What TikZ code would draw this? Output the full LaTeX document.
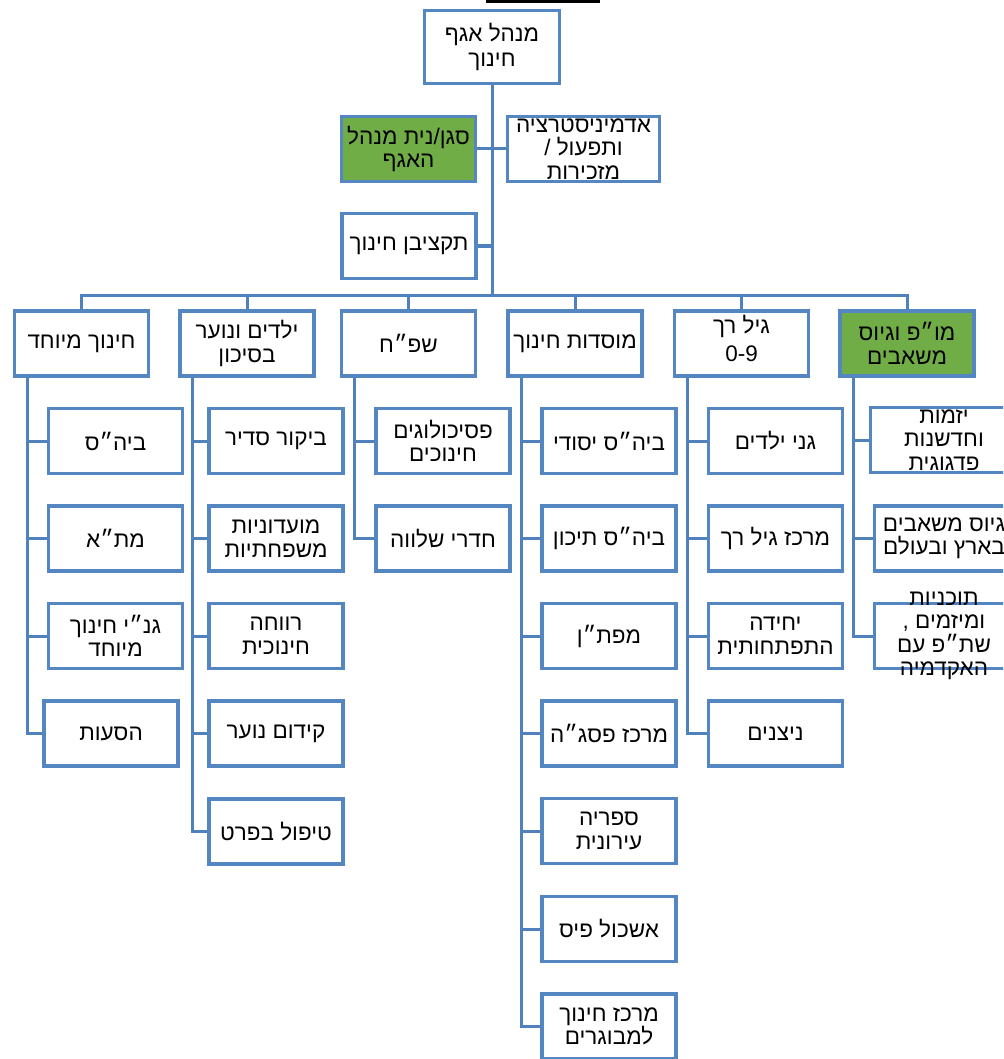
\documentclass[tikz,border=0pt]{standalone}
\usepackage{fontspec}
\setmainfont{Liberation Sans}
\newfontfamily\hebfont[Script=Hebrew]{Liberation Sans}
\TeXXeTstate=1
\newcommand{\heb}[1]{\beginR #1\endR}
\definecolor{boxblue}{RGB}{84,134,194}
\definecolor{lineblue}{RGB}{79,129,189}
\definecolor{boxgreen}{RGB}{112,173,71}
\tikzset{
  box/.style={draw=boxblue, line width=3.2pt, fill=white, minimum width=134pt,
    minimum height=65pt, align=center, inner xsep=2pt, inner ysep=0pt,
    font=\hebfont\fontsize{22.5}{23.5}\selectfont},
  greenbox/.style={box, fill=boxgreen},
  txt/.style={align=center, inner sep=0pt, font=\hebfont\fontsize{22.5}{23.5}\selectfont},
  conn/.style={draw=lineblue, line width=3pt},
}
\begin{document}
\begin{tikzpicture}[x=1pt, y=-1pt]
\useasboundingbox (0,0) rectangle (1003,1059);
\clip (0,0) rectangle (1003,1059);
% title underline (cut off title)
\draw[black, line width=3pt] (486,1.5) -- (600,1.5);

% top
\node[box, minimum width=135pt, minimum height=73pt] (top) at (492,47) {\heb{מנהל אגף}\\[2pt]\heb{חינוך}};
\node[greenbox] (sg) at (408.5,149) {\heb{סגן/נית מנהל}\\\heb{האגף}};
\node[box, minimum width=152pt] (ad) at (583.5,149) {};
\node[txt] (adt) at (ad.center) {\heb{אדמיניסטרציה}\\\heb{ותפעול /}\\\heb{מזכירות}};
\node[box] (tq) at (409,246) {\heb{תקציבן חינוך}};
\coordinate (bus) at (492,295);

% level 1
\node[box] (c1) at (81.5,343.5) {\heb{חינוך מיוחד}};
\node[box] (c2) at (247,343.5) {\heb{ילדים ונוער}\\\heb{בסיכון}};
\node[box] (c3) at (408.5,343.5) {\heb{שפ״ח}};
\node[box] (c4) at (575,343.5) {\heb{מוסדות חינוך}};
\node[box] (c5) at (741.5,343.5) {};
\node[txt] (c5t) at ([yshift=5pt]c5.center) {\heb{גיל רך}\\[5pt]0-9};
\node[greenbox] (c6) at (907,343.5) {\heb{מו״פ וגיוס}\\\heb{משאבים}};

% column 1
\coordinate (v1) at (27,0);
\node[box] (a1) at (115.5,441) {\heb{ביה״ס}};
\node[box] (a2) at (115.5,538.5) {\heb{מת״א}};
\node[box] (a3) at (115.5,636) {\heb{גנ״י חינוך}\\\heb{מיוחד}};
\node[box] (a4) at (111,733.5) {\heb{הסעות}};
% column 2
\coordinate (v2) at (192.5,0);
\node[box] (b1) at (276,441) {\heb{ביקור סדיר}};
\node[box] (b2) at (276,538.5) {\heb{מועדוניות}\\\heb{משפחתיות}};
\node[box] (b3) at (276,636) {\heb{רווחה}\\\heb{חינוכית}};
\node[box] (b4) at (276,733.5) {\heb{קידום נוער}};
\node[box] (b5) at (276,831.5) {\heb{טיפול בפרט}};
% column 3
\coordinate (v3) at (354,0);
\node[box] (d1) at (443,441) {\heb{פסיכולוגים}\\\heb{חינוכים}};
\node[box] (d2) at (443,538.5) {\heb{חדרי שלווה}};
% column 4
\coordinate (v4) at (521,0);
\node[box] (e1) at (609,441) {\heb{ביה״ס יסודי}};
\node[box] (e2) at (609,538.5) {\heb{ביה״ס תיכון}};
\node[box] (e3) at (609,636) {\heb{מפת״ן}};
\node[box] (e4) at (609,733.5) {\heb{מרכז פסג״ה}};
\node[box] (e5) at (609,831) {\heb{ספריה}\\\heb{עירונית}};
\node[box] (e6) at (609,929) {\heb{אשכול פיס}};
\node[box] (e7) at (609,1026.5) {\heb{מרכז חינוך}\\\heb{למבוגרים}};
% column 5
\coordinate (v5) at (687,0);
\node[box] (g1) at (775.5,441) {\heb{גני ילדים}};
\node[box] (g2) at (775.5,538.5) {\heb{מרכז גיל רך}};
\node[box] (g3) at (775.5,636) {\heb{יחידה}\\\heb{התפתחותית}};
\node[box] (g4) at (775.5,733.5) {\heb{ניצנים}};
% column 6
\coordinate (v6) at (853,0);
\node[box, minimum width=147pt] (f1) at (944,440) {};
\node[txt] (f1t) at (f1.center) {\heb{יזמות}\\\heb{וחדשנות}\\\heb{פדגוגית}};
\node[box, minimum width=139pt] (f2) at (944,538.5) {\heb{גיוס משאבים}\\\heb{בארץ ובעולם}};
\node[box, minimum width=139pt] (f3) at (944,636) {};
\node[txt] (f3t) at (f3.center) {\heb{תוכניות}\\\heb{ומיזמים ,}\\\heb{שת״פ עם}\\\heb{האקדמיה}};

% connectors
\draw[conn] (top.south) -- (bus);
\draw[conn] (sg.east) -- (sg.east -| top.south);
\draw[conn] (ad.west) -- (ad.west -| top.south);
\draw[conn] (tq.east) -- (tq.east -| top.south);
\foreach \c in {c1,c2,c3,c4,c5,c6} \draw[conn] (\c.north) |- (bus);

\foreach \k in {a1,a2,a3,a4} \draw[conn] (c1.south -| v1) |- (\k.west);
\foreach \k in {b1,b2,b3,b4,b5} \draw[conn] (c2.south -| v2) |- (\k.west);
\foreach \k in {d1,d2} \draw[conn] (c3.south -| v3) |- (\k.west);
\foreach \k in {e1,e2,e3,e4,e5,e6,e7} \draw[conn] (c4.south -| v4) |- (\k.west);
\foreach \k in {g1,g2,g3,g4} \draw[conn] (c5.south -| v5) |- (\k.west);
\foreach \k in {f1,f2,f3} \draw[conn] (c6.south -| v6) |- (\k.west);
\end{tikzpicture}
\end{document}
